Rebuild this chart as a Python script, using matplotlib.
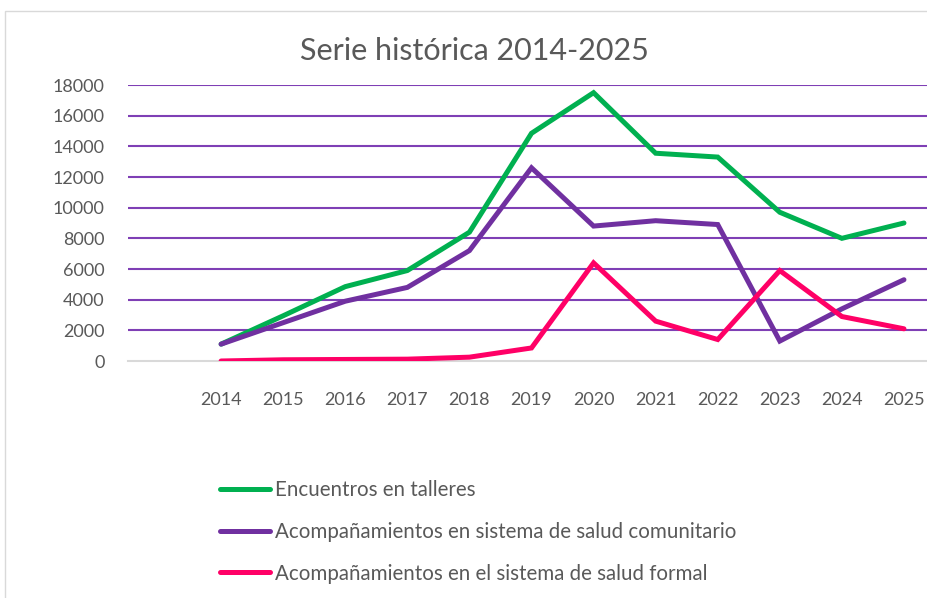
import numpy as np
import matplotlib.pyplot as plt
from matplotlib.patches import Rectangle

# ----------------------------------------------------------------
# data (first category is blank, as in the original sheet)
categories = ['', '2014', '2015', '2016', '2017', '2018', '2019',
              '2020', '2021', '2022', '2023', '2024', '2025']
talleres = [np.nan, 1100, 2950, 4850, 5900, 8400, 14850,
            17500, 13550, 13300, 9700, 8000, 9000]
comunitario = [np.nan, 1100, 2500, 3900, 4800, 7200, 12600,
               8800, 9150, 8900, 1300, 3400, 5300]
formal = [np.nan, 0, 80, 100, 120, 250, 850,
          6400, 2600, 1400, 5900, 2900, 2100]
series_names = ['Encuentros en talleres',
                'Acompañamientos en sistema de salud comunitario',
                'Acompañamientos en el sistema de salud formal']
title = 'Serie histórica 2014-2025'
yticks = [0, 2000, 4000, 6000, 8000, 10000, 12000, 14000, 16000, 18000]

# ----------------------------------------------------------------
W, H = 927, 598
color_list = ['#00B050', '#7030A0', '#FF0066']
grid_color = '#7F3FB5'
text_color = '#595959'

plt.rcParams['font.family'] = ['Lato', 'DejaVu Sans']

fig = plt.figure(figsize=(W / 100, H / 100), dpi=100)
fig.patch.set_facecolor('white')

# chart area border
fig.patches.append(Rectangle((5 / W, -0.1), 1.1, 1.1 - 11 / H,
                             transform=fig.transFigure, fill=False,
                             edgecolor='#D9D9D9', linewidth=1.0))

ax = fig.add_axes([128 / W, 1 - 361 / H, 807 / W, 276 / H])
x = np.arange(len(categories))

for vals, col, name in zip([talleres, comunitario, formal], color_list, series_names):
    ax.plot(x, vals, color=col, linewidth=3.6, label=name,
            solid_joinstyle='miter', solid_capstyle='round', zorder=3)

ax.set_xlim(-0.5, len(categories) - 0.5)
ax.set_ylim(0, 18000)
ax.set_yticks(yticks)
ax.set_yticklabels([str(v) for v in yticks])
ax.set_xticks(x)
ax.set_xticklabels(categories)

for v in yticks[1:]:
    ax.axhline(v, color=grid_color, linewidth=1.5, zorder=1)

for s in ['top', 'right', 'left']:
    ax.spines[s].set_visible(False)
ax.spines['bottom'].set_color('#D9D9D9')
ax.spines['bottom'].set_linewidth(1.5)

ax.tick_params(axis='both', length=0, labelsize=13, colors=text_color)
ax.tick_params(axis='y', pad=17)
ax.tick_params(axis='x', pad=22)

fig.text(474 / W, 1 - 51 / H, title, ha='center', va='center',
         fontsize=22, color=text_color)

fig.legend(loc='upper left', bbox_to_anchor=(220 / W, 1 - 480 / H),
           frameon=False, fontsize=14.8, labelcolor=text_color,
           handlelength=2.45, handletextpad=0.22, labelspacing=1.06,
           borderpad=0, borderaxespad=0)

fig.savefig('out.png', dpi=100)
plt.close()
